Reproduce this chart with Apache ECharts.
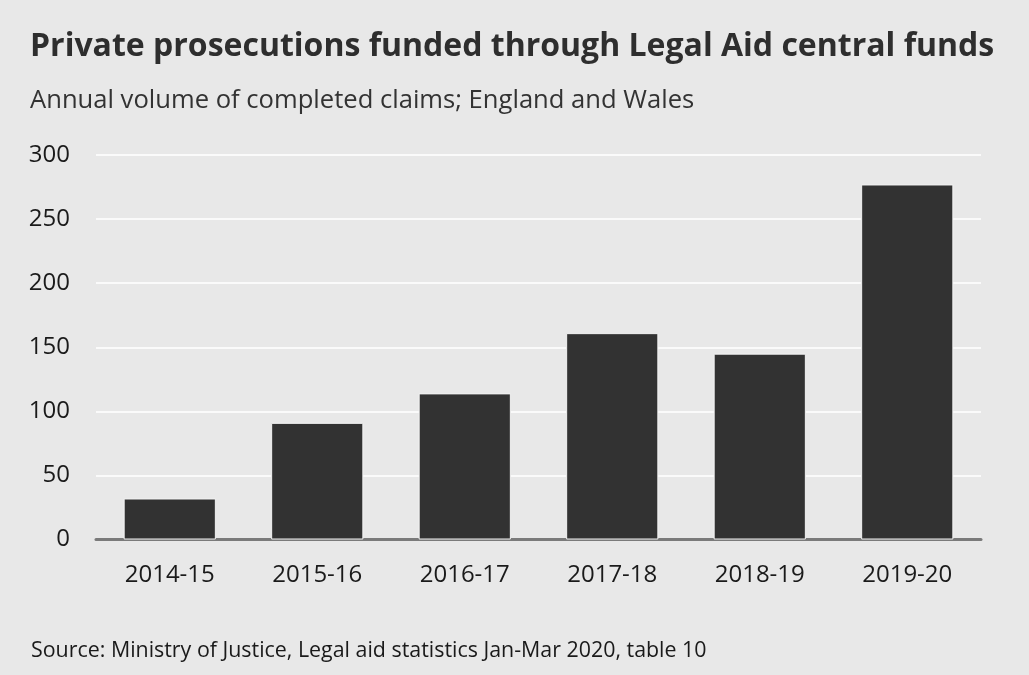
<!DOCTYPE html>
<html>
<head>
<meta charset="utf-8">
<script src="https://cdn.jsdelivr.net/npm/echarts@6/dist/echarts.min.js"></script>
<style>
html,body{margin:0;padding:0;background:#e8e8e8;}
#chart{width:1029px;height:675px;}
</style>
</head>
<body>
<div id="chart"></div>
<script>
const categories = ['2014-15', '2015-16', '2016-17', '2017-18', '2018-19', '2019-20'];
const claims = [32, 91, 114, 161, 145, 277];
const yTicks = [0, 50, 100, 150, 200, 250, 300];

const titleText = 'Private prosecutions funded through Legal Aid central funds';
const subtitleText = 'Annual volume of completed claims; England and Wales';
const sourceText = 'Source: Ministry of Justice, Legal aid statistics Jan-Mar 2020, table 10';

const chart = echarts.init(document.getElementById('chart'), null, {renderer: 'canvas'});
chart.setOption({
  backgroundColor: '#e8e8e8',
  animation: false,
  title: [
    {text: titleText, left: 25, top: 26,
     textStyle: {fontFamily: 'Open Sans', fontWeight: 'bold', fontSize: 32, color: '#2e2e2e'}},
    {text: subtitleText, left: 25, top: 83,
     textStyle: {fontFamily: 'Open Sans', fontWeight: 'normal', fontSize: 25.6, color: '#333333'}},
    {text: sourceText, left: 26, top: 635,
     textStyle: {fontFamily: 'Open Sans', fontWeight: 'normal', fontSize: 21.4, color: '#1a1a1a'}}
  ],
  grid: {left: 96, right: 48, top: 155, bottom: 135.5, containLabel: false},
  xAxis: {
    type: 'category',
    data: categories,
    axisLine: {show: true, lineStyle: {color: '#7a7a7a', width: 3}},
    axisTick: {show: false},
    axisLabel: {fontFamily: 'Open Sans', fontSize: 24, color: '#1a1a1a', margin: 24}
  },
  yAxis: {
    type: 'value',
    min: 0, max: 300, interval: 50,
    axisLine: {show: false},
    axisTick: {show: false},
    splitLine: {show: true, lineStyle: {color: '#fafafa', width: 2}},
    axisLabel: {fontFamily: 'Open Sans', fontSize: 24, color: '#1a1a1a', margin: 26,
      formatter: v => yTicks.includes(v) ? String(v) : ''}
  },
  series: [{
    type: 'bar',
    data: claims,
    barWidth: '62.5%',
    itemStyle: {color: '#323232', borderColor: '#f2f2f2', borderWidth: 1}
  }]
});
</script>
</body>
</html>
